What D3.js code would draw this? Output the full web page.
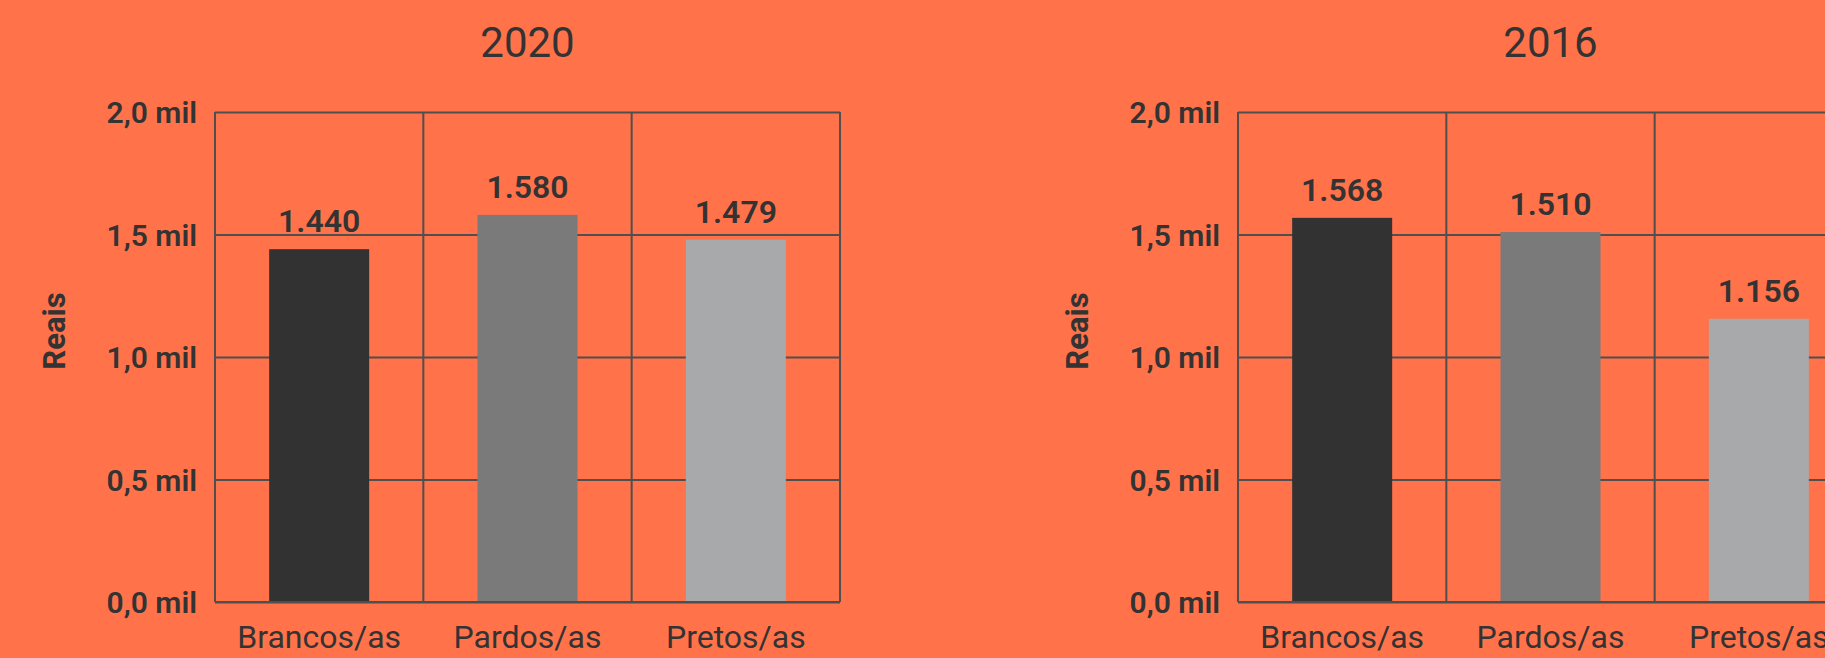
<!DOCTYPE html>
<html>
<head>
<meta charset="utf-8">
<script src="https://cdn.jsdelivr.net/npm/d3@7"></script>
<style>
  html, body { margin: 0; padding: 0; background: #ff724a; }
  svg { display: block; }
  text { font-family: Roboto, "Noto Sans", sans-serif; fill: #333333; }
</style>
</head>
<body>
<svg id="chart" width="1825" height="658"></svg>
<script>
// Renda média por cor/raça, em reais
const categories = ["Brancos/as", "Pardos/as", "Pretos/as"];
const years = ["2020", "2016"];
const values2020 = [1440, 1580, 1479];
const values2016 = [1568, 1510, 1156];
const yTicks = [0, 500, 1000, 1500, 2000];
const yAxisTitle = "Reais";
const barColors = ["#323232", "#7a7a7a", "#a8a9ab"];

const seriesByYear = [values2020, values2016];

const ptBR = d3.formatLocale({
  decimal: ",", thousands: ".", grouping: [3], currency: ["R$", ""]
});
const fmtTick = v => ptBR.format(".1f")(v / 1000) + " mil";
const fmtValue = ptBR.format(",d");

const svg = d3.select("#chart");

// plot geometry of one panel; the second panel repeats it further right
const plotW = 625, plotTop = 112, plotBottom = 602;
const panelLefts = [215, 1238];
const gridColor = "#4f4f4f";

const y = d3.scaleLinear().domain([0, 2000]).range([plotBottom, plotTop]);
const x = d3.scaleBand().domain(categories).range([0, plotW]).padding(0);
const barW = x.bandwidth() * 0.48;
const color = d3.scaleOrdinal().domain(categories).range(barColors);

years.forEach((year, i) => {
  const vals = seriesByYear[i];
  const data = categories.map((c, j) => ({ cat: c, value: vals[j] }));
  const g = svg.append("g").attr("transform", `translate(${panelLefts[i]},0)`);

  // title
  g.append("text")
    .attr("x", plotW / 2).attr("y", 57)
    .attr("text-anchor", "middle")
    .style("font-size", "42px").style("font-weight", 400)
    .text(year);

  // horizontal gridlines + tick labels
  const yAxis = g.append("g")
    .call(d3.axisLeft(y).tickValues(yTicks).tickFormat(fmtTick)
      .tickSize(-plotW).tickPadding(18));
  yAxis.select(".domain").remove();
  yAxis.selectAll(".tick line").attr("stroke", gridColor).attr("stroke-width", 2);
  yAxis.selectAll(".tick text")
    .style("font-size", "30px").style("font-weight", 600)
    .attr("fill", "#333333").attr("dy", "0.36em");

  // vertical cell borders
  const edges = categories.map(c => x(c)).concat([plotW]);
  g.append("g").selectAll("line").data(edges).join("line")
    .attr("x1", d => d).attr("x2", d => d)
    .attr("y1", plotTop).attr("y2", plotBottom)
    .attr("stroke", gridColor).attr("stroke-width", 2);

  // bars
  g.append("g").selectAll("rect").data(data).join("rect")
    .attr("x", d => x(d.cat) + (x.bandwidth() - barW) / 2)
    .attr("width", barW)
    .attr("y", d => y(d.value))
    .attr("height", d => y(0) - y(d.value))
    .attr("fill", d => color(d.cat));

  // baseline over the bar feet
  g.append("line")
    .attr("x1", 0).attr("x2", plotW)
    .attr("y1", y(0)).attr("y2", y(0))
    .attr("stroke", gridColor).attr("stroke-width", 2);

  // value labels
  g.append("g").selectAll("text").data(data).join("text")
    .attr("x", d => x(d.cat) + x.bandwidth() / 2)
    .attr("y", d => y(d.value) - 17)
    .attr("text-anchor", "middle")
    .style("font-size", "32px").style("font-weight", 600)
    .text(d => fmtValue(d.value));

  // category labels
  const xAxis = g.append("g")
    .attr("transform", `translate(0,${plotBottom})`)
    .call(d3.axisBottom(x).tickSize(0).tickPadding(0));
  xAxis.select(".domain").remove();
  xAxis.selectAll(".tick text")
    .attr("dy", null).attr("y", 46)
    .style("font-size", "32px").style("font-weight", 400)
    .attr("fill", "#333333");

  // axis title
  g.append("text")
    .attr("transform", `translate(-150,331) rotate(-90)`)
    .attr("text-anchor", "middle")
    .style("font-size", "31px").style("font-weight", 700)
    .text(yAxisTitle);
});
</script>
</body>
</html>
